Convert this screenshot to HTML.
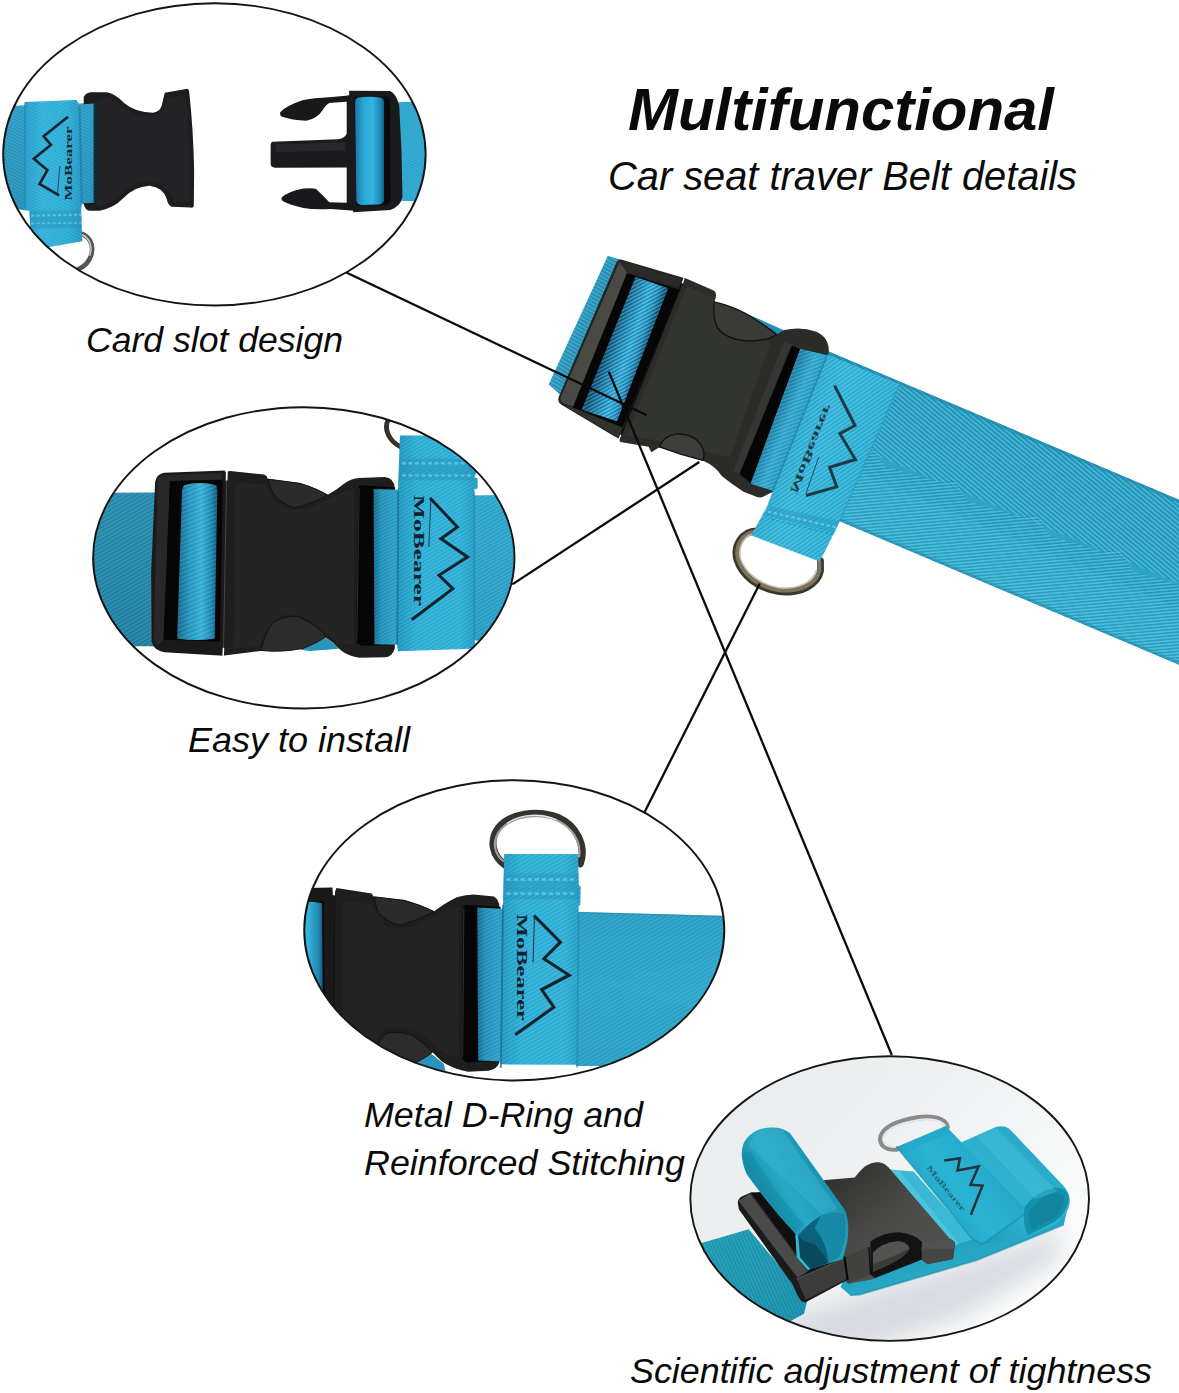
<!DOCTYPE html>
<html><head><meta charset="utf-8">
<style>
html,body{margin:0;padding:0;background:#fff;}
body{width:1179px;height:1393px;overflow:hidden;font-family:"Liberation Sans",sans-serif;}
svg{display:block;}
text{font-family:"Liberation Sans",sans-serif;fill:#0a0a0a;}
</style></head>
<body>
<svg width="1179" height="1393" viewBox="0 0 1179 1393">
<defs>
<!--DEFS-->
<linearGradient id="beltGrad" gradientUnits="userSpaceOnUse" x1="700" y1="150" x2="540" y2="560">
  <stop offset="0" stop-color="#2a9cc3"/><stop offset="0.5" stop-color="#2ea6cc"/><stop offset="1" stop-color="#38b0d4"/>
</linearGradient>
<linearGradient id="labelGrad" gradientUnits="userSpaceOnUse" x1="400" y1="500" x2="800" y2="660">
  <stop offset="0" stop-color="#2aa8d0"/><stop offset="0.35" stop-color="#38b9de"/><stop offset="1" stop-color="#2fb0d6"/>
</linearGradient>
<linearGradient id="holeStrapGrad" gradientUnits="userSpaceOnUse" x1="360" y1="440" x2="470" y2="485">
  <stop offset="0" stop-color="#1f7fa6"/><stop offset="0.5" stop-color="#35abd2"/><stop offset="1" stop-color="#2797bd"/>
</linearGradient>
<linearGradient id="leftStrapGrad" gradientUnits="userSpaceOnUse" x1="120" y1="290" x2="230" y2="335">
  <stop offset="0" stop-color="#2f9cc2"/><stop offset="1" stop-color="#2387ad"/>
</linearGradient>
<linearGradient id="rollGrad" gradientUnits="userSpaceOnUse" x1="270" y1="380" x2="390" y2="425">
  <stop offset="0" stop-color="#156c92"/><stop offset="0.35" stop-color="#3db2da"/><stop offset="0.7" stop-color="#258fb8"/><stop offset="1" stop-color="#115a7c"/>
</linearGradient>
<pattern id="weaveA" width="6" height="6" patternUnits="userSpaceOnUse" patternTransform="rotate(-50)">
  <rect width="6" height="6" fill="none"/><rect width="6" height="2" fill="#1b86ad"/>
</pattern>
<pattern id="weaveB" width="16" height="16" patternUnits="userSpaceOnUse" patternTransform="rotate(-35)">
  <rect width="16" height="8" fill="#7adcf0" opacity="0.55"/><rect y="8" width="16" height="8" fill="#126f92" opacity="0.4"/>
</pattern>
<pattern id="weaveC" width="13" height="13" patternUnits="userSpaceOnUse" patternTransform="rotate(30)">
  <rect width="13" height="6.5" fill="#7adcf0" opacity="0.55"/><rect y="6.5" width="13" height="6.5" fill="#126f92" opacity="0.4"/>
</pattern>
<pattern id="weaveD" width="16" height="16" patternUnits="userSpaceOnUse" patternTransform="rotate(-20)">
  <rect width="16" height="8" fill="#7adcf0" opacity="0.55"/><rect y="8" width="16" height="8" fill="#126f92" opacity="0.4"/>
</pattern>
<clipPath id="clipE1"><ellipse cx="214.4" cy="154.35" rx="210.9" ry="150.8"/></clipPath>
<linearGradient id="e1band" gradientUnits="userSpaceOnUse" x1="0" y1="200" x2="0" y2="790">
  <stop offset="0" stop-color="#2c9dc6"/><stop offset="0.5" stop-color="#2a96be"/><stop offset="1" stop-color="#2590b8"/>
</linearGradient>
<linearGradient id="e1label" gradientUnits="userSpaceOnUse" x1="140" y1="0" x2="460" y2="0">
  <stop offset="0" stop-color="#279dca"/><stop offset="0.3" stop-color="#33b4de"/><stop offset="0.75" stop-color="#2fafd9"/><stop offset="1" stop-color="#2496c2"/>
</linearGradient>
<linearGradient id="e1roll" gradientUnits="userSpaceOnUse" x1="652" y1="0" x2="832" y2="0">
  <stop offset="0" stop-color="#1a78a4"/><stop offset="0.3" stop-color="#2aa7d6"/><stop offset="0.6" stop-color="#35b4e0"/><stop offset="0.85" stop-color="#1f8dba"/><stop offset="1" stop-color="#135f84"/>
</linearGradient>
<pattern id="weaveE" width="16" height="16" patternUnits="userSpaceOnUse" patternTransform="rotate(25)">
  <rect width="16" height="8" fill="#7adcf0" opacity="0.55"/><rect y="8" width="16" height="8" fill="#126f92" opacity="0.4"/>
</pattern>
<clipPath id="clipE2"><ellipse cx="303.8" cy="557.85" rx="210.4" ry="150.3"/></clipPath>
<linearGradient id="e2strapL" gradientUnits="userSpaceOnUse" x1="0" y1="240" x2="0" y2="935">
  <stop offset="0" stop-color="#2789ab"/><stop offset="0.5" stop-color="#2484a6"/><stop offset="1" stop-color="#207b9d"/>
</linearGradient>
<linearGradient id="e2strapR" gradientUnits="userSpaceOnUse" x1="0" y1="420" x2="0" y2="1135">
  <stop offset="0" stop-color="#2fa8ce"/><stop offset="1" stop-color="#2a9dc4"/>
</linearGradient>
<linearGradient id="e2roll" gradientUnits="userSpaceOnUse" x1="420" y1="0" x2="600" y2="0">
  <stop offset="0" stop-color="#15658a"/><stop offset="0.3" stop-color="#2596c0"/><stop offset="0.6" stop-color="#38b4da"/><stop offset="0.85" stop-color="#1f86b0"/><stop offset="1" stop-color="#0f5273"/>
</linearGradient>
<linearGradient id="e2holeStrap" gradientUnits="userSpaceOnUse" x1="412" y1="0" x2="535" y2="0">
  <stop offset="0" stop-color="#1a769c"/><stop offset="0.6" stop-color="#2a9cc4"/><stop offset="1" stop-color="#2590b8"/>
</linearGradient>
<linearGradient id="e2label" gradientUnits="userSpaceOnUse" x1="530" y1="0" x2="905" y2="0">
  <stop offset="0" stop-color="#2297c0"/><stop offset="0.25" stop-color="#2fb0d8"/><stop offset="0.8" stop-color="#31b2da"/><stop offset="1" stop-color="#279fc8"/>
</linearGradient>
<pattern id="weaveF" width="16" height="16" patternUnits="userSpaceOnUse" patternTransform="rotate(-30)">
  <rect width="16" height="8" fill="#7adcf0" opacity="0.55"/><rect y="8" width="16" height="8" fill="#126f92" opacity="0.4"/>
</pattern>
<pattern id="weaveG" width="18" height="18" patternUnits="userSpaceOnUse" patternTransform="rotate(-22)">
  <rect width="18" height="9" fill="#7adcf0" opacity="0.55"/><rect y="9" width="18" height="9" fill="#126f92" opacity="0.4"/>
</pattern>
<linearGradient id="e2holeStrapC" gradientUnits="userSpaceOnUse" x1="935" y1="0" x2="1090" y2="0">
  <stop offset="0" stop-color="#14688c"/><stop offset="0.3" stop-color="#2390b8"/><stop offset="0.8" stop-color="#2ca2ca"/><stop offset="1" stop-color="#2590b8"/>
</linearGradient>
<pattern id="weaveH" width="18" height="18" patternUnits="userSpaceOnUse" patternTransform="rotate(-25)">
  <rect width="18" height="9" fill="#7adcf0" opacity="0.55"/><rect y="9" width="18" height="9" fill="#126f92" opacity="0.4"/>
</pattern>
<clipPath id="clipE3"><ellipse cx="514.25" cy="930.35" rx="209.7" ry="149.8"/></clipPath>
<linearGradient id="e3strapR" gradientUnits="userSpaceOnUse" x1="0" y1="555" x2="0" y2="1300">
  <stop offset="0" stop-color="#2aa0c5"/><stop offset="0.5" stop-color="#2da5ca"/><stop offset="1" stop-color="#2a9fc4"/>
</linearGradient>
<linearGradient id="e3label" gradientUnits="userSpaceOnUse" x1="140" y1="0" x2="495" y2="0">
  <stop offset="0" stop-color="#2297c0"/><stop offset="0.25" stop-color="#2fb0d8"/><stop offset="0.8" stop-color="#31b2da"/><stop offset="1" stop-color="#27a0c9"/>
</linearGradient>
<linearGradient id="e3roll" gradientUnits="userSpaceOnUse" x1="-40" y1="0" x2="125" y2="0">
  <stop offset="0" stop-color="#2596c0"/><stop offset="0.5" stop-color="#38b4da"/><stop offset="0.85" stop-color="#1f86b0"/><stop offset="1" stop-color="#0f5273"/>
</linearGradient>
<linearGradient id="e3holeStrap" gradientUnits="userSpaceOnUse" x1="950" y1="0" x2="1095" y2="0">
  <stop offset="0" stop-color="#14688c"/><stop offset="0.3" stop-color="#2390b8"/><stop offset="0.8" stop-color="#2ca2ca"/><stop offset="1" stop-color="#2590b8"/>
</linearGradient>
<clipPath id="clipE4"><ellipse cx="889.65" cy="1198.55" rx="199" ry="142"/></clipPath>
<linearGradient id="e4bg" gradientUnits="userSpaceOnUse" x1="700" y1="1060" x2="1000" y2="1340">
  <stop offset="0" stop-color="#e6ebec"/><stop offset="0.5" stop-color="#eff2f3"/><stop offset="1" stop-color="#fbfcfc"/>
</linearGradient>
<linearGradient id="e4strap" gradientUnits="userSpaceOnUse" x1="0" y1="800" x2="80" y2="1040">
  <stop offset="0" stop-color="#1f9bb8"/><stop offset="1" stop-color="#27a8c4"/>
</linearGradient>
<linearGradient id="e4strapL" gradientUnits="userSpaceOnUse" x1="100" y1="800" x2="500" y2="1250">
  <stop offset="0" stop-color="#1e9ab2"/><stop offset="1" stop-color="#1a8fa8"/>
</linearGradient>
<linearGradient id="e4loop" gradientUnits="userSpaceOnUse" x1="560" y1="700" x2="900" y2="300">
  <stop offset="0" stop-color="#1f9fbd"/><stop offset="0.5" stop-color="#2fb4d0"/><stop offset="1" stop-color="#28a9c8"/>
</linearGradient>
<linearGradient id="e4label" gradientUnits="userSpaceOnUse" x1="300" y1="600" x2="650" y2="330">
  <stop offset="0" stop-color="#1fa2c2"/><stop offset="0.5" stop-color="#2bb4d4"/><stop offset="1" stop-color="#22a8c8"/>
</linearGradient>
<linearGradient id="e4body" gradientUnits="userSpaceOnUse" x1="380" y1="250" x2="760" y2="720">
  <stop offset="0" stop-color="#333332"/><stop offset="0.55" stop-color="#484847"/><stop offset="1" stop-color="#4f4f4e"/>
</linearGradient>
<linearGradient id="e4roll" gradientUnits="userSpaceOnUse" x1="330" y1="520" x2="700" y2="300">
  <stop offset="0" stop-color="#128aa6"/><stop offset="0.45" stop-color="#27a8c4"/><stop offset="0.8" stop-color="#1f9cb8"/><stop offset="1" stop-color="#1790ac"/>
</linearGradient>
<pattern id="weaveI" width="18" height="18" patternUnits="userSpaceOnUse" patternTransform="rotate(66)">
  <rect width="18" height="9" fill="#7adcf0" opacity="0.55"/><rect y="9" width="18" height="9" fill="#126f92" opacity="0.4"/>
</pattern>
<linearGradient id="beltGradL" gradientUnits="userSpaceOnUse" x1="0" y1="0" x2="0" y2="152">
  <stop offset="0" stop-color="#2a9dc0"/><stop offset="0.5" stop-color="#2ea4c6"/><stop offset="1" stop-color="#33abcb"/>
</linearGradient>
<pattern id="wvUp" width="3.6" height="3.6" patternUnits="userSpaceOnUse" patternTransform="rotate(17)">
  <rect width="3.6" height="1.8" fill="#66d6ec" opacity="0.42"/><rect y="1.8" width="3.6" height="1.8" fill="#15789c" opacity="0.32"/>
</pattern>
<pattern id="wvLow" width="3.2" height="3.2" patternUnits="userSpaceOnUse" patternTransform="rotate(-28)">
  <rect width="3.2" height="1.6" fill="#66d6ec" opacity="0.42"/><rect y="1.6" width="3.2" height="1.6" fill="#15789c" opacity="0.32"/>
</pattern>
<filter id="blur10" x="-30%" y="-60%" width="160%" height="220%"><feGaussianBlur stdDeviation="11"/></filter>
<linearGradient id="rollGrad2" gradientUnits="userSpaceOnUse" x1="395" y1="610" x2="605" y2="682">
  <stop offset="0" stop-color="#0c3f66"/><stop offset="0.25" stop-color="#1878a8"/><stop offset="0.6" stop-color="#35b2e0"/><stop offset="0.82" stop-color="#2292c2"/><stop offset="1" stop-color="#0e4a70"/>
</linearGradient>
<pattern id="wvRoll" width="20" height="20" patternUnits="userSpaceOnUse" patternTransform="rotate(-28)">
  <rect width="20" height="9" fill="#8fe4fa" opacity="0.35"/><rect y="10" width="20" height="10" fill="#0c5a80" opacity="0.3"/>
</pattern>
<!--/DEFS-->
</defs>
<rect width="1179" height="1393" fill="#ffffff"/>

<!--MAINBELT-->
<g id="mainbelt">
  <!-- belt body in local rotated frame: u along belt, v across (0..152) -->
  <g transform="translate(830,352) rotate(22.95)">
    <rect x="-40" y="0" width="560" height="152" fill="url(#beltGradL)"/>
    <rect x="-40" y="0" width="560" height="77" fill="url(#wvUp)"/>
    <polygon points="-40,77 60,77 75,70 95,84 150,77 165,70 185,84 240,77 255,70 275,84 330,77 345,70 365,84 420,77 435,70 455,84 520,77 520,152 -40,152" fill="url(#wvLow)"/>
    <rect x="-40" y="0" width="560" height="3" fill="#1d82a6" opacity="0.55"/>
    <rect x="-40" y="149" width="560" height="3" fill="#1d82a6" opacity="0.45"/>
    <rect x="-40" y="100" width="560" height="50" fill="#5fd0e8" opacity="0.10"/>
  </g>

  <!-- D ring (source coords) -->
  <g fill="none" stroke-linecap="round">
    <path d="M757,531 C741,531 733,547 737,560 C742,576 758,588 778,591.5 C800,594.5 818,585 820.5,571 L820.5,561" stroke="#3d362b" stroke-width="6.8"/>
    <path d="M757,531.5 C742,532 734.5,547 738.2,559.5 C743,575 758.5,586.6 778,590 C799,592.8 816.5,584 819.3,570.5 L819.3,562" stroke="#7d745f" stroke-width="4"/>
    <path d="M755,533.5 C744,535 737.5,547 740.5,558.5 C745,572.5 759.5,584 778,587.5 C797,590 813,582.5 816.5,570" stroke="#c9c2ac" stroke-width="1.6" opacity="0.95"/>
  </g>

  <!-- buckle (coords from zoom of [540,240,860,540]) -->
  <g transform="translate(540,240) scale(0.271416)">
    <!-- strap end at left under frame -->
    <polygon points="250,58 335,85 120,610 32,532" fill="url(#leftStrapGrad)"/>
    <polygon points="250,58 335,85 120,610 32,532" fill="url(#weaveC)" opacity="0.45"/>
    <!-- strap visible behind button gap -->
    <polygon points="770,275 905,335 860,360 790,335" fill="#238fb6"/>
    <!-- body -->
    <path d="M530,138 L640,186 Q650,190 648,210 L640,235 Q700,250 760,280 Q830,315 872,348 L900,332 Q960,318 1018,338 Q1066,358 1064,414
             L1060,426 L958,402 L776,897 L863,925 L822,946 Q812,952 795,945 L750,928 Q700,895 668,868 Q650,835 600,812 Q520,790 440,764 L410,782 L400,762 L296,744 L290,735 Z" fill="#2b2c28"/>
    <!-- body subtle sheen -->
    <path d="M540,170 L640,212 L640,300 Q700,370 850,375 L700,800 Q560,770 440,740 L320,720 Z" fill="#363732" opacity="0.75"/>
    <!-- top button -->
    <path d="M642,228 Q720,245 790,290 Q850,330 872,348 Q835,372 770,372 Q690,368 655,325 Q635,290 642,228 Z" fill="#3a3b36" stroke="#111110" stroke-width="5"/>
    <!-- bottom button -->
    <path d="M440,762 Q455,722 500,715 Q560,712 590,750 Q612,780 600,812 Q520,792 440,762 Z" fill="#3d3e39" stroke="#111110" stroke-width="5"/>
    <!-- right frame hole shadow -->
    <polygon points="925,388 960,402 778,897 735,862" fill="#050505"/>
    <polygon points="900,372 930,386 735,862 712,850" fill="#3c3c3c" opacity="0.6"/>
    <!-- split line between male frame and body -->
  </g>

  <!-- left (male) frame: zoom [545,245,735,455] scale 6.205 -->
  <g transform="translate(545,245) scale(0.161154)">
    <path d="M472,90 L858,203 L866,214 L468,1206 L430,1186 L102,992 Q74,972 86,940 L442,112 Q452,88 472,90 Z" fill="#232420"/>
    <!-- left bar lighter face -->
    <path d="M462,104 L100,940 Q92,968 112,980 L178,1004 L520,186 Z" fill="#494a44"/>
    <path d="M470,98 L845,212 L832,262 L508,172 Z" fill="#2a2b27"/>
    <!-- hole -->
    <polygon points="508,176 836,278 480,1132 172,1008" fill="#060606"/>
    <!-- roll -->
    <polygon points="562,198 764,268 447,1094 228,1022" fill="url(#rollGrad2)"/>
    <polygon points="562,198 764,268 447,1094 228,1022" fill="url(#wvRoll)"/>
    <!-- bottom bar top face -->
    <path d="M172,1008 L480,1132 L458,1196 L112,990 Z" fill="#30312d"/>
    <polyline points="862,206 462,1204" stroke="#0b0b0a" stroke-width="9" fill="none" opacity="0.85"/>
    <polyline points="866,196 852,238" stroke="#ffffff" stroke-width="9" fill="none"/>
    <polyline points="470,1178 456,1216" stroke="#ffffff" stroke-width="8" fill="none"/>
  </g>
  <g transform="translate(700,320) scale(0.21529)">
    <!-- strap in the frame hole -->
    <polygon points="465,135 595,165 345,795 235,760" fill="url(#holeStrapGrad)"/>
    <polygon points="465,135 595,165 345,795 235,760" fill="url(#weaveD)" opacity="0.4"/>
    <!-- label -->
    <polygon points="590,160 929,300 650,932 580,1075 555,1122 238,1000 310,870 340,790" fill="url(#labelGrad)"/>
    <polygon points="590,160 929,300 650,932 580,1075 555,1122 238,1000 310,870 340,790" fill="url(#weaveB)" opacity="0.45"/>
    <!-- label left crease -->
    <polyline points="590,165 340,790" stroke="#1d83a8" stroke-width="7" fill="none" opacity="0.8"/>
    <polyline points="924,302 650,932" stroke="#1f8db3" stroke-width="6" fill="none" opacity="0.45"/>
    <!-- stitching band -->
    <polygon points="325,865 650,935 625,990 295,905" fill="#2a9cc2" opacity="0.55"/>
    <polyline points="315,890 640,965" stroke="#6fd0ea" stroke-width="9" stroke-dasharray="16 12" fill="none" opacity="0.8"/>
    <polyline points="330,925 630,1000" stroke="#1f86ab" stroke-width="5" stroke-dasharray="14 12" fill="none" opacity="0.7"/>
    <!-- logo zigzag -->
    <polyline points="625,305 720,490 650,528 722,648 602,684 635,775 492,815" fill="none" stroke="#1f3a47" stroke-width="14" stroke-linejoin="miter"/>
    <polyline points="552,636 492,806" stroke="#1f3a47" stroke-width="4" fill="none"/>
    <text transform="translate(418,796) rotate(-68) scale(1,-1)" font-weight="bold" font-size="52" style="fill:#1f3a47;font-family:'Liberation Serif',serif" textLength="440" lengthAdjust="spacingAndGlyphs">MoBearer</text>
  </g>
</g>
<!--/MAINBELT-->

<!--ELLIPSE1-->
<g id="e1" clip-path="url(#clipE1)">
  <rect x="0" y="0" width="430" height="310" fill="#ffffff"/>
  <!-- left half: coords from zoom [0,70,210,290] scale 5.614 -->
  <g transform="translate(0,70) scale(0.178117)">
    <!-- strap band behind -->
    <polygon points="0,205 150,198 530,185 530,745 165,790 0,770" fill="url(#e1band)"/>
    <polygon points="0,205 150,198 530,185 530,745 165,790 0,770" fill="url(#weaveE)" opacity="0.35"/>
    <!-- D ring partial -->
    <path d="M455,918 C505,935 528,985 512,1040 C500,1080 470,1105 440,1118" fill="none" stroke="#55555b" stroke-width="26" stroke-linecap="round"/>
    <path d="M462,925 C505,945 520,990 505,1040" fill="none" stroke="#c9c9cf" stroke-width="8" stroke-linecap="round"/>
    <!-- label -->
    <polygon points="140,180 430,168 447,200 460,745 455,790 462,962 230,1002 176,990 165,790 140,775" fill="url(#e1label)"/>
    <polygon points="140,180 430,168 447,200 460,745 455,790 462,962 230,1002 176,990 165,790 140,775" fill="url(#weaveE)" opacity="0.3"/>
    <!-- label edges -->
    <polyline points="140,182 140,775" stroke="#1c86ad" stroke-width="8" fill="none" opacity="0.7"/>
    <polyline points="447,200 458,745" stroke="#1a7ea6" stroke-width="10" fill="none" opacity="0.7"/>
    <!-- stitch band -->
    <polygon points="165,790 456,788 460,885 170,890" fill="#2592ba" opacity="0.45"/>
    <polyline points="175,818 455,812" stroke="#6ad0ee" stroke-width="12" stroke-dasharray="18 12" fill="none" opacity="0.7"/>
    <polyline points="175,862 455,858" stroke="#6ad0ee" stroke-width="10" stroke-dasharray="18 12" fill="none" opacity="0.6"/>
    <!-- female buckle -->
    <path d="M470,152 Q480,128 510,125 L600,125 Q650,135 700,188 Q760,238 860,240 Q900,235 908,200 L925,128 L1052,105 Q1062,105 1064,140 Q1085,330 1090,560 L1088,765 Q1086,775 1070,772 L965,768 Q945,765 935,722 Q915,660 840,650 Q750,655 690,722 Q640,775 560,790 L500,790 Q475,785 470,748 L530,745 L530,188 L470,192 Z" fill="#1d1d1f"/>
    <path d="M545,170 L600,150 Q650,160 700,215 Q760,262 860,262 Q920,258 940,160 L1040,140 Q1065,350 1066,560 L1064,740 L975,740 Q950,640 840,625 Q740,630 680,700 Q630,750 560,765 L545,760 Z" fill="#262628" opacity="0.8"/>
    <rect x="525" y="188" width="22" height="558" fill="#0d2a3a" opacity="0.9"/>
    <!-- logo -->
    <polyline points="382,262 245,372 286,420 190,498 266,562 222,640 332,704" fill="none" stroke="#16252f" stroke-width="15" stroke-linejoin="miter"/>
    <polyline points="336,540 322,702" stroke="#16252f" stroke-width="4" fill="none"/>
    <text transform="translate(402,732) rotate(-90)" font-weight="bold" font-size="64" style="fill:#16252f;font-family:'Liberation Serif',serif" textLength="415" lengthAdjust="spacingAndGlyphs">MoBearer</text>
  </g>
  <!-- right half: coords from zoom [250,70,440,240] scale 6.205 -->
  <g transform="translate(250,70) scale(0.161154)">
    <!-- right strap -->
    <polygon points="900,200 1100,195 1100,815 900,812" fill="#2fa7d0"/>
    <polygon points="900,200 1100,195 1100,815 900,812" fill="url(#weaveE)" opacity="0.3"/>
    <!-- frame -->
    <path d="M615,128 L870,130 Q910,150 926,220 L940,500 L946,790 Q930,852 870,868 L640,882 L636,838 L600,832 L600,160 L615,158 Z" fill="#1a1a1c"/>
    <!-- hole -->
    <path d="M648,165 L850,165 Q866,170 868,190 L872,810 Q868,830 850,838 L660,842 Z" fill="#0b0b0d"/>
    <!-- roll -->
    <path d="M665,172 Q740,160 815,172 Q832,180 832,200 L832,810 Q825,832 800,835 L690,838 Q665,835 660,810 L652,200 Q652,180 665,172 Z" fill="url(#e1roll)"/>
    <!-- prong -->
    <path d="M140,446 L545,430 Q585,425 600,395 L612,395 L612,605 L155,606 Q128,604 128,580 L128,465 Q128,448 140,446 Z" fill="#1b1b1d"/>
    <path d="M160,462 L590,448 L590,500 L160,510 Z" fill="#2c2c2e" opacity="0.8"/>
    <!-- upper arm -->
    <path d="M188,262 Q215,225 330,186 Q400,172 470,170 L615,158 L615,196 L492,204 Q470,215 450,250 Q420,300 350,315 Q260,312 200,290 Q182,280 188,262 Z" fill="#19191b"/>
    <!-- lower arm -->
    <path d="M198,790 Q230,758 330,736 Q385,730 410,738 Q450,775 492,820 L600,824 L650,836 L650,874 L500,862 Q400,868 330,856 Q245,838 205,815 Q190,804 198,790 Z" fill="#19191b"/>
  </g>
</g>
<!--/ELLIPSE1-->

<!--ELLIPSE2-->
<g id="e2" clip-path="url(#clipE2)">
  <rect x="90" y="405" width="430" height="310" fill="#ffffff"/>
  <!-- left half: zoom [85,440,345,680] scale 4.535 -->
  <g transform="translate(85,440) scale(0.22052)">
    <!-- left strap -->
    <polygon points="0,240 320,238 320,935 0,935" fill="url(#e2strapL)"/>
    <polygon points="0,240 320,238 320,935 0,935" fill="url(#weaveF)" opacity="0.3"/>
  </g>
  <!-- right half: zoom [290,410,530,680] scale 4.9125 -->
  <g transform="translate(290,410) scale(0.203562)">
    <!-- strap right of label -->
    <polygon points="880,420 1179,415 1179,1135 880,1132" fill="url(#e2strapR)"/>
    <polygon points="880,420 1179,415 1179,1135 880,1132" fill="url(#weaveF)" opacity="0.3"/>
    <!-- D ring partial -->
    <path d="M482,48 C462,90 480,150 545,182" fill="none" stroke="#3b3026" stroke-width="24" stroke-linecap="round"/>
  </g>
  <!-- center: zoom [215,455,415,675] scale 5.895 -->
  <g transform="translate(215,455) scale(0.169635)">
    <!-- strap peeking under bottom button -->
    <polygon points="500,1148 650,1076 702,1112 730,1142 560,1156" fill="#2a93b8"/>
    <!-- body -->
    <path d="M90,95 L290,115 L305,125 L310,140 L500,165 Q600,195 665,235 Q720,205 760,170 Q800,138 850,135 L1000,130 Q1055,135 1060,195 L1060,1140 Q1045,1190 1000,1192 L850,1195 Q790,1185 760,1165 Q720,1135 700,1110 L650,1075 Q600,1110 520,1140 Q400,1165 270,1155 L44,1183 L60,99 Z" fill="#1e1e1f"/>
    <path d="M120,160 L300,175 Q330,260 400,310 Q470,335 560,310 Q640,275 690,250 Q760,210 820,200 L820,1120 Q760,1120 700,1090 Q620,1010 560,975 Q480,935 400,945 Q330,975 290,1060 L260,1130 L110,1140 Z" fill="#252526" opacity="0.8"/>
    <!-- top button crescent -->
    <path d="M312,142 L500,167 Q600,197 663,236 Q560,292 470,310 Q400,292 345,230 Q326,190 312,142 Z" fill="#2b2b2c" stroke="#0e0e0e" stroke-width="4"/>
    <!-- bottom button crescent -->
    <path d="M272,1152 Q290,1060 340,990 Q400,950 480,950 Q560,980 640,1050 L650,1075 Q600,1110 520,1140 Q400,1165 272,1152 Z" fill="#2c2c2d" stroke="#0e0e0e" stroke-width="4"/>
    <!-- hole shadow -->
    <path d="M860,178 L1062,192 L1062,1120 L870,1125 Q835,1115 832,1090 L845,200 Q848,180 860,178 Z" fill="#050506"/>
    <polyline points="850,195 836,1095" stroke="#4a4a4a" stroke-width="5" fill="none" opacity="0.7"/>
    <!-- strap in hole -->
    <polygon points="935,200 1090,205 1085,1118 940,1115" fill="url(#e2holeStrapC)"/>
    <polygon points="935,200 1090,205 1085,1118 940,1115" fill="url(#weaveH)" opacity="0.28"/>
  </g>
  <!-- left frame: zoom [85,440,345,680] -->
  <g transform="translate(85,440) scale(0.22052)">
    <path d="M360,148 L634,138 L640,178 L626,978 L360,962 Q312,955 302,915 L300,600 L318,190 Q325,152 360,148 Z" fill="#1a1a1b"/>
    <path d="M345,160 L620,150 L620,182 L385,186 L358,905 L330,930 Q312,920 312,890 L328,200 Q330,170 345,160 Z" fill="#2c2c2d" opacity="0.85"/>
    <polygon points="385,186 625,180 612,915 356,905" fill="#060607"/>
    <path d="M448,205 Q520,185 596,205 L600,230 L588,900 Q500,915 418,900 L440,230 Z" fill="url(#e2roll)"/>
    <path d="M448,205 Q520,185 596,205 L600,230 L588,900 Q500,915 418,900 L440,230 Z" fill="url(#weaveG)" opacity="0.3"/>
    <polyline points="642,182 628,942" stroke="#8a8a8a" stroke-width="3" fill="none" opacity="0.55"/>
    <polyline points="644,134 642,184" stroke="#ffffff" stroke-width="8" fill="none"/>
    <polyline points="628,942 626,990" stroke="#ffffff" stroke-width="7" fill="none"/>
  </g>
  <!-- label etc: zoom [290,410,530,680] -->
  <g transform="translate(290,410) scale(0.203562)">
    <path d="M540,125 L1000,125 L905,330 L922,335 L922,385 L905,390 L905,1130 L918,1172 L530,1185 L525,1150 L530,400 Z" fill="url(#e2label)"/>
    <path d="M540,125 L1000,125 L905,330 L922,335 L922,385 L905,390 L905,1130 L918,1172 L530,1185 L525,1150 L530,400 Z" fill="url(#weaveF)" opacity="0.28"/>
    <polyline points="532,400 527,1150" stroke="#176f93" stroke-width="8" fill="none" opacity="0.8"/>
    <polyline points="905,400 905,1130" stroke="#1d84aa" stroke-width="8" fill="none" opacity="0.6"/>
    <polygon points="540,238 905,238 905,345 535,345" fill="#2390b6" opacity="0.45"/>
    <polyline points="550,262 900,262" stroke="#62cdea" stroke-width="12" stroke-dasharray="20 12" fill="none" opacity="0.75"/>
    <polyline points="550,322 900,322" stroke="#62cdea" stroke-width="12" stroke-dasharray="20 12" fill="none" opacity="0.7"/>
    <polyline points="688,432 822,575 742,632 872,722 732,812 800,878 598,1030" fill="none" stroke="#14222b" stroke-width="15" stroke-linejoin="miter"/>
    <polyline points="692,440 682,672" stroke="#14222b" stroke-width="4" fill="none"/>
    <text transform="translate(608,418) rotate(90)" font-weight="bold" font-size="72" style="fill:#14222b;font-family:'Liberation Serif',serif" textLength="545" lengthAdjust="spacingAndGlyphs">MoBearer</text>
  </g>
</g>
<!--/ELLIPSE2-->

<!--ELLIPSE3-->
<g id="e3" clip-path="url(#clipE3)">
  <rect x="300" y="775" width="430" height="310" fill="#ffffff"/>
  <!-- right: zoom [470,790,730,1080] scale 4.535 -->
  <g transform="translate(470,790) scale(0.220526)">
    <!-- right strap -->
    <polygon points="480,553 1179,572 1179,1252 480,1252" fill="url(#e3strapR)"/>
    <polygon points="480,553 1179,572 1179,1252 480,1252" fill="url(#weaveF)" opacity="0.25"/>
    <polygon points="600,880 1179,740 1179,1040" fill="#3bb4d6" opacity="0.22"/>
    <polyline points="480,555 1179,574" stroke="#1b83a8" stroke-width="6" fill="none" opacity="0.6"/>
    <!-- D ring -->
    <path d="M165,345 C100,300 85,230 130,170 C180,110 300,85 400,125 C480,160 530,250 500,335" fill="none" stroke="#36322e" stroke-width="32" stroke-linecap="round"/>
    <path d="M150,322 C105,285 100,225 140,178 C190,122 300,100 395,138 C462,168 505,235 495,300" fill="none" stroke="#a9a9ab" stroke-width="10" stroke-linecap="round" opacity="0.9"/>
    <path d="M170,150 C230,108 320,104 390,134" fill="none" stroke="#f0f0f0" stroke-width="6" stroke-linecap="round" opacity="0.9"/>
  </g>
  <!-- left: zoom [300,860,520,1090] scale 5.359 -->
  <g transform="translate(300,860) scale(0.1866)">
    <!-- blue strap peeking under bottom -->
    <polygon points="560,1080 700,1035 770,1092 780,1130 600,1130" fill="#2a93b8"/>
    <!-- male frame partial -->
    <path d="M-20,150 L174,148 L176,188 L192,190 L192,1000 L-20,1000 Z" fill="#19191a"/>
    <path d="M-20,225 L128,222 L132,1000 L-20,1000 Z" fill="#070708"/>
    <path d="M-20,232 Q60,215 118,232 L124,1000 L-20,1000 Z" fill="url(#e3roll)"/>
    <!-- body -->
    <path d="M195,150 L385,180 L393,195 L560,215 Q650,240 720,275 Q770,235 840,200 Q890,185 930,185 L1040,195 Q1068,215 1070,255 L1070,1080 Q1060,1120 1010,1130 L900,1135 Q820,1120 760,1080 L710,1030 Q650,1080 560,1110 L180,1110 L180,190 Z" fill="#1e1e1f"/>
    <path d="M230,220 L385,235 Q420,320 470,360 Q540,380 630,345 Q700,310 760,280 L850,250 L850,1060 Q780,1050 720,1000 Q650,920 600,905 Q520,885 450,905 Q410,950 390,1000 L230,900 Z" fill="#262627" opacity="0.75"/>
    <!-- top button -->
    <path d="M397,197 L560,217 Q650,242 718,277 Q630,322 540,350 Q470,337 420,280 Q402,240 397,197 Z" fill="#2b2b2c" stroke="#0e0e0e" stroke-width="4"/>
    <!-- bottom button -->
    <path d="M415,1010 Q430,950 470,928 Q520,915 600,940 Q660,975 708,1032 Q650,1080 560,1110 L400,1110 Z" fill="#2c2c2d" stroke="#0e0e0e" stroke-width="4"/>
    <!-- split notch -->
    <polyline points="184,148 184,190" stroke="#ffffff" stroke-width="7" fill="none"/>
    <polyline points="186,190 182,1000" stroke="#000000" stroke-width="4" fill="none" opacity="0.6"/>
    <!-- hole -->
    <path d="M885,240 L1075,250 L1075,1078 L895,1085 Q868,1075 868,1050 L872,262 Q874,242 885,240 Z" fill="#050506"/>
    <polyline points="878,258 872,1055" stroke="#4a4a4a" stroke-width="5" fill="none" opacity="0.7"/>
    <!-- strap in hole -->
    <polygon points="950,255 1095,262 1090,1080 955,1075" fill="url(#e3holeStrap)"/>
    <polygon points="950,255 1095,262 1090,1080 955,1075" fill="url(#weaveH)" opacity="0.28"/>
  </g>
  <!-- label: zoom [470,790,730,1080] -->
  <g transform="translate(470,790) scale(0.220526)">
    <path d="M155,290 L490,290 L493,430 L502,440 L500,520 L493,525 L486,1246 L140,1244 L150,500 Z" fill="url(#e3label)"/>
    <path d="M155,290 L490,290 L493,430 L502,440 L500,520 L493,525 L486,1246 L140,1244 L150,500 Z" fill="url(#weaveF)" opacity="0.28"/>
    <polyline points="150,520 140,1260" stroke="#176f93" stroke-width="8" fill="none" opacity="0.8"/>
    <polyline points="492,560 486,1260" stroke="#1d84aa" stroke-width="8" fill="none" opacity="0.55"/>
    <polygon points="153,380 492,380 495,495 150,495" fill="#2390b6" opacity="0.4"/>
    <polyline points="165,405 485,405" stroke="#62cdea" stroke-width="12" stroke-dasharray="20 12" fill="none" opacity="0.75"/>
    <polyline points="165,470 485,470" stroke="#62cdea" stroke-width="12" stroke-dasharray="20 12" fill="none" opacity="0.7"/>
    <polyline points="290,570 410,690 335,765 450,840 325,905 380,985 205,1110" fill="none" stroke="#14222b" stroke-width="14" stroke-linejoin="miter"/>
    <polyline points="292,578 286,782" stroke="#14222b" stroke-width="4" fill="none"/>
    <text transform="translate(212,562) rotate(90)" font-weight="bold" font-size="64" style="fill:#14222b;font-family:'Liberation Serif',serif" textLength="485" lengthAdjust="spacingAndGlyphs">MoBearer</text>
  </g>
</g>
<!--/ELLIPSE3-->

<!--ELLIPSE4-->
<g id="e4" clip-path="url(#clipE4)">
  <rect x="680" y="1050" width="420" height="300" fill="url(#e4bg)"/>
  <polygon points="790,1318 860,1296 1000,1252 1062,1228 1056,1262 960,1318 860,1350 790,1350" fill="#c3c9d2" opacity="0.6" filter="url(#blur10)"/>
  <!-- RIGHT: zoom [860,1090,1090,1320] scale 5.126 -->
  <g transform="translate(860,1090) scale(0.195081)">
    <!-- main strap under -->
    <polygon points="-80,965 0,940 480,780 840,640 1062,612 1045,690 600,872 0,1048 -50,1052 -100,1010" fill="url(#e4strap)"/>
    <polyline points="1045,690 600,872 0,1048 -50,1052" stroke="#178aa3" stroke-width="10" fill="none" opacity="0.6"/>
    <!-- right loop outer -->
    <path d="M520,268 L700,188 Q740,180 765,198 L1040,488 Q1080,530 1075,580 Q1065,640 1010,680 L850,760 L620,790 Z" fill="url(#e4loop)"/>
    <!-- loop opening -->
    <path d="M843,600 Q900,522 1000,500 Q1068,498 1070,562 Q1060,632 998,676 L862,745 Q830,690 843,600 Z" fill="#1590ac"/>
    <path d="M866,622 Q920,548 995,526 Q1046,526 1048,572 Q1036,630 982,662 L882,712 Q858,672 866,622 Z" fill="#0f7f99" opacity="0.7"/>
    <!-- loop highlight -->
    <polygon points="600,240 700,195 1010,520 900,560" fill="#4fc6e0" opacity="0.35"/>
    <!-- strap strip between buckle and label -->
    <polygon points="150,408 275,418 580,765 485,795" fill="#3ab8d4"/>
    <polygon points="150,408 200,412 510,790 485,795" fill="#5fd0e6" opacity="0.5"/>
    <!-- D ring -->
    <path d="M188,302 C130,305 100,280 108,240 C120,195 190,160 300,142 C380,132 435,150 446,188" fill="none" stroke="#8a8a8c" stroke-width="28" stroke-linecap="round"/>
    <path d="M180,292 C135,292 112,272 120,240 C132,203 195,170 300,153 C370,144 420,158 436,184" fill="none" stroke="#e9e9ea" stroke-width="10" stroke-linecap="round"/>
    <!-- label -->
    <polygon points="188,292 440,184 836,596 840,640 625,792 575,762" fill="url(#e4label)"/>
    <polygon points="188,292 440,184 470,215 215,325" fill="#1f9dbd" opacity="0.35"/>
    <polyline points="575,762 625,792 840,640" stroke="#178aa8" stroke-width="8" fill="none" opacity="0.6"/>
    <polyline points="188,292 575,762" stroke="#1a90ae" stroke-width="8" fill="none" opacity="0.7"/>
    <!-- logo -->
    <polyline points="432,362 512,350 500,412 608,392 566,486 628,490 568,640" fill="none" stroke="#25333b" stroke-width="13" stroke-linejoin="miter"/>
    <text transform="translate(340,400) rotate(51)" font-weight="bold" font-size="40" style="fill:#25566a;font-family:'Liberation Serif',serif" textLength="290" lengthAdjust="spacingAndGlyphs" opacity="0.85">MoBearer</text>
  </g>
  <!-- CENTER: zoom [780,1130,980,1310] scale 5.895 -->
  <g transform="translate(780,1130) scale(0.169635)">
    <path d="M200,300 L440,280 Q470,240 500,215 Q540,188 582,190 Q622,196 652,234 L1000,640 Q1030,655 1032,668 L1020,760 L870,792 L830,764 L540,882 L400,906 L372,770 Z" fill="url(#e4body)"/>
    <!-- window -->
    <path d="M533,658 Q600,606 702,603 Q792,614 838,660 L834,702 L840,762 L800,778 L560,872 L534,852 Z" fill="#131313"/>
    <!-- prong -->
    <path d="M548,722 Q602,662 700,654 Q758,666 764,700 Q740,746 640,796 L548,836 Z" fill="#535352"/>
    <path d="M548,790 Q640,760 764,700 Q740,746 640,796 L548,836 Z" fill="#3a3a39"/>
    <!-- front-right rim -->
    <path d="M838,660 L1000,643 Q1030,656 1032,669 L1020,760 L870,792 L834,764 L840,702 Z" fill="#454544"/>
    <path d="M838,660 L1000,643 Q1030,656 1032,669 L1028,700 L842,700 Z" fill="#59595a" opacity="0.7"/>
    <!-- junction band -->
    <path d="M372,754 L402,740 L522,690 L534,852 L402,904 L386,890 Z" fill="#414140"/>
    <polyline points="524,690 534,852" stroke="#0e0e0e" stroke-width="8" fill="none"/>
  </g>
  <!-- LEFT: zoom [690,1100,900,1330] scale 5.614 -->
  <g transform="translate(690,1100) scale(0.178117)">
    <!-- left teal strap -->
    <polygon points="-50,840 75,800 330,726 660,1120 640,1200 400,1330 -50,1330" fill="url(#e4strapL)"/>
    <polygon points="-50,840 75,800 330,726 660,1120 640,1200 400,1330 -50,1330" fill="url(#weaveI)" opacity="0.25"/>
    <!-- male frame -->
    <path d="M268,575 Q268,552 300,538 L345,518 L430,520 L650,940 L862,872 L884,1010 L650,1135 Q625,1140 605,1100 L575,1035 L275,615 Z" fill="#1b1b1c"/>
    <path d="M600,1005 L862,890 L878,1005 L650,1122 Z" fill="#3e3e3d" opacity="0.95"/>
    <polyline points="600,1005 862,890" stroke="#5a5a59" stroke-width="6" fill="none" opacity="0.8"/>
    <polyline points="868,880 886,1012" stroke="#050505" stroke-width="10" fill="none"/>
    <polygon points="330,528 430,512 640,760 700,955 650,975" fill="#101011"/>
    <polygon points="272,566 340,524 664,962 604,998" fill="#4a4a48"/>
    <polyline points="340,524 664,962" stroke="#2a2a29" stroke-width="6" fill="none"/>
    <!-- roll tube body -->
    <path d="M290,300 Q292,200 400,162 Q500,138 562,186 L872,620 Q900,700 882,800 L858,892 L665,952 L600,882 L592,752 Q450,600 320,420 Q292,360 290,300 Z" fill="url(#e4roll)"/>
    <!-- tube sheen -->
    <path d="M400,165 Q470,150 520,170 L830,610 L740,640 L330,260 Q350,190 400,165 Z" fill="#42bdd6" opacity="0.35"/>
    <path d="M292,300 Q300,360 330,420 Q450,590 592,745 L640,700 Q480,520 340,290 Z" fill="#0f7f9c" opacity="0.35"/>
    <!-- opening interior -->
    <path d="M606,762 Q660,694 733,651 Q806,626 860,644 Q878,705 864,796 L838,880 L777,914 L672,952 L612,885 Z" fill="#0d627b"/>
    <path d="M733,651 Q806,626 860,644 Q878,705 864,796 L838,880 L777,914 Q770,800 700,720 Z" fill="#168aa6"/>
    <path d="M606,762 L640,790 L704,812 L748,868 L777,914 L672,952 L612,885 Z" fill="#0a4a5d"/>
    <!-- lip -->
    <path d="M592,752 L607,764 L618,884 L676,950 L662,956 L600,884 Z" fill="#38b8d2"/>
  </g>
</g>
<!--/ELLIPSE4-->

<!--LINES-->
<g stroke="#0a0a0a" stroke-width="2.3" fill="none" stroke-linecap="butt">
<line x1="346.3" y1="272.5" x2="646.9" y2="415.3"/>
<line x1="608.9" y1="371.8" x2="891.8" y2="1055"/>
<line x1="512.3" y1="584.4" x2="699.3" y2="462"/>
<line x1="759.8" y1="583.5" x2="644.4" y2="812.4"/>
</g>
<g stroke="#141414" stroke-width="1.9" fill="none">
<ellipse cx="214.4" cy="154.35" rx="211.25" ry="151.15"/>
<ellipse cx="303.8" cy="557.85" rx="210.7" ry="150.65"/>
<ellipse cx="514.25" cy="930.35" rx="210.05" ry="150.15"/>
<ellipse cx="889.65" cy="1198.55" rx="199.35" ry="142.35"/>
</g>

<!--TEXT-->
<g font-style="italic">
<text x="628" y="130" font-size="60" font-weight="bold" textLength="426" lengthAdjust="spacingAndGlyphs">Multifunctional</text>
<text x="608" y="190" font-size="40" textLength="469" lengthAdjust="spacingAndGlyphs">Car seat traver Belt details</text>
<text x="86" y="352" font-size="35" textLength="257" lengthAdjust="spacingAndGlyphs">Card slot design</text>
<text x="188" y="752" font-size="35" textLength="222" lengthAdjust="spacingAndGlyphs">Easy to install</text>
<text x="364" y="1127" font-size="35" textLength="279" lengthAdjust="spacingAndGlyphs">Metal D-Ring and</text>
<text x="364" y="1175" font-size="35" textLength="321" lengthAdjust="spacingAndGlyphs">Reinforced Stitching</text>
<text x="630" y="1383" font-size="35" textLength="522" lengthAdjust="spacingAndGlyphs">Scientific adjustment of tightness</text>
</g>
</svg>
</body></html>
